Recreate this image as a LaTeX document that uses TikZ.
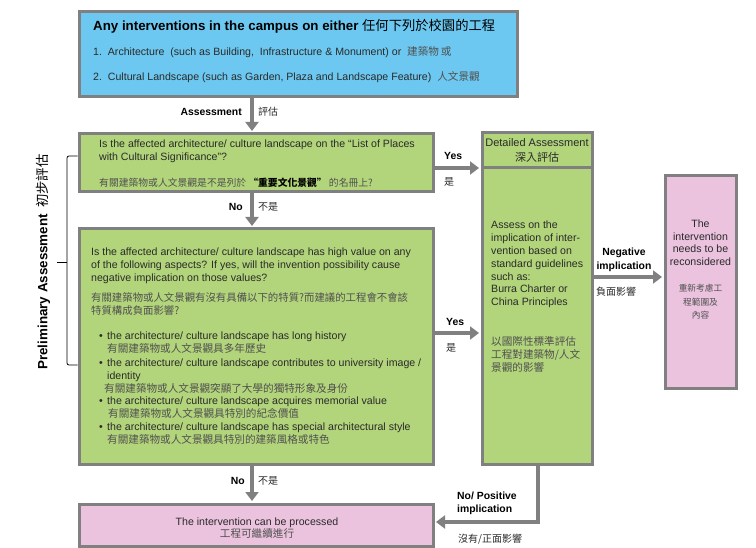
\documentclass[tikz,border=0pt]{standalone}
\usepackage{fontspec}
\setmainfont{Liberation Sans}
\newfontfamily\cjk{Noto Sans CJK TC}
\usetikzlibrary{arrows.meta}
\definecolor{bluefill}{HTML}{6CC8F0}
\definecolor{greenfill}{HTML}{B2D47B}
\definecolor{pinkfill}{HTML}{EBC3DE}
\definecolor{edgegray}{HTML}{808080}
\definecolor{txt}{HTML}{2A2A2A}
\definecolor{zhgray}{HTML}{505050}
\newcommand{\zh}[1]{{\cjk\color{zhgray}#1}}
\newcommand{\zhk}[1]{{\cjk #1}}
\begin{document}
\begin{tikzpicture}[x=1pt,y=-1pt,
  box/.style={draw=edgegray, line width=3pt, rectangle, inner sep=0pt},
  flow/.style={draw=edgegray, line width=4pt, shorten >=1.5pt, -{Triangle[width=13pt,length=9pt]}},
  tx/.style={inner sep=0pt, anchor=base west, align=left, text=txt, font=\fontsize{10.6}{12.8}\selectfont},
  lbl/.style={inner sep=0pt, text=black, font=\fontsize{10.4}{12.8}\selectfont\bfseries},
  lblz/.style={inner sep=0pt, text=txt, font=\cjk\fontsize{10}{12.8}\selectfont},
  brace/.style={draw=black, line width=0.8pt}
]
\useasboundingbox (0,0) rectangle (756,548);

% boxes
\node[box, fill=bluefill, minimum width=438pt, minimum height=85pt] (top) at (298,54.5) {};
\node[box, fill=greenfill, minimum width=354pt, minimum height=58pt] (g1) at (256,163) {};
\node[box, fill=greenfill, minimum width=354pt, minimum height=235pt] (g2) at (256,346.5) {};
\node[box, fill=pinkfill, minimum width=354pt, minimum height=42pt] (pb) at (256,525) {};
\node[box, fill=greenfill, minimum width=110pt, minimum height=331pt] (det) at (537,298.5) {};
\node[box, fill=pinkfill, minimum width=71pt, minimum height=213pt] (pr) at (700.5,282.5) {};

% helper coordinates
\coordinate (ax) at (252,0);
\coordinate (y1) at (0,168);
\coordinate (y2) at (0,333);
\coordinate (y3) at (0,277);
\coordinate (turn) at (538,522);

\draw[edgegray, line width=3pt] (det.west |- y1) -- (det.east |- y1);

% connectors
\draw[flow] (top.south -| ax) -- (g1.north -| ax);
\draw[flow] (g1.south -| ax) -- (g2.north -| ax);
\draw[flow] (g2.south -| ax) -- (pb.north -| ax);
\draw[flow] (g1.east |- y1) -- (det.west |- y1);
\draw[flow] (g2.east |- y2) -- (det.west |- y2);
\draw[flow] (det.east |- y3) -- (pr.west |- y3);
\draw[flow] (det.south -| turn) -- (turn) -- (turn -| pb.east);

% brace
\coordinate (bt) at (67,156);
\coordinate (bb) at (67,365);
\coordinate (bm) at (67,262);
\coordinate (bl) at (57,262);
\draw[brace, rounded corners=2pt] (bt -| g1.west) -- (bt) -- (bb) -- (bb -| g2.west);
\draw[brace] (bm) -- (bl);
\node[rotate=90, inner sep=0pt, font=\fontsize{13.4}{16}\selectfont] (prelim) at (43,262) {\textbf{Preliminary Assessment}\hspace{6pt}\zhk{初步評估}};

% top box text
\node[tx, text=black, font=\fontsize{13.3}{16}\selectfont\bfseries] (t0) at (93,31) {Any interventions in the campus on either \zhk{\mdseries 任何下列於校園的工程}};
\node[tx] (t1) at (93,56) {1.\ \ Architecture\ \ (such as Building,\ \ Infrastructure \& Monument) or\ \ \zh{建築物\,或}};
\node[tx] (t2) at (93,81) {2.\ \ Cultural Landscape (such as Garden, Plaza and Landscape Feature)\ \ \zh{人文景觀}};

% g1 text (anchor base = last line)
\node[tx] (g1t) at (99,160.8) {Is the affected architecture/ culture landscape on the “List of Places\\with Cultural Significance”?};
\node[tx, text=zhgray, font=\cjk\fontsize{9.8}{12.8}\selectfont] (g1c) at (99,187) {有關建築物或人文景觀是不是列於 {\bfseries\color{black}“重要文化景觀”} 的名冊上?};

% g2 text
\node[tx, font=\fontsize{10.6}{13}\selectfont] (g2t) at (91,282) {Is the affected architecture/ culture landscape has high value on any\\of the following aspects? If yes, will the invention possibility cause\\negative implication on those values?};
\node[tx, text=zhgray, font=\cjk\fontsize{10.4}{13}\selectfont] (g2c) at (91,315) {有關建築物或人文景觀有沒有具備以下的特質?而建議的工程會不會該\\特質構成負面影響?};
\node[tx, font=\fontsize{10.6}{12.6}\selectfont] (b1) at (99,352.6) {\makebox[8pt][l]{\textbullet}the architecture/ culture landscape has long history\\\hspace*{8pt}\zh{有關建築物或人文景觀具多年歷史}};
\node[tx, font=\fontsize{10.6}{12.6}\selectfont] (b2) at (99,392.2) {\makebox[8pt][l]{\textbullet}the architecture/ culture landscape contributes to university image /\\\hspace*{8pt}identity\\\hspace*{5pt}\zh{有關建築物或人文景觀突顯了大學的獨特形象及身份}};
\node[tx, font=\fontsize{10.6}{12.6}\selectfont] (b3) at (99,417.6) {\makebox[8pt][l]{\textbullet}the architecture/ culture landscape acquires memorial value\\\hspace*{9pt}\zh{有關建築物或人文景觀具特別的紀念價值}};
\node[tx, font=\fontsize{10.6}{12.6}\selectfont] (b4) at (99,443.6) {\makebox[8pt][l]{\textbullet}the architecture/ culture landscape has special architectural style\\\hspace*{8pt}\zh{有關建築物或人文景觀具特別的建築風格或特色}};

% bottom pink text
\node[tx, anchor=base, align=center] (pbt) at (257,537.8) {The intervention can be processed\\\zh{工程可繼續進行}};

% detailed box text
\node[tx, anchor=base, align=center, font=\fontsize{11}{15}\selectfont] (deth) at (537,162) {Detailed Assessment\\\zhk{深入評估}};
\node[tx] (dett) at (491,305.8) {Assess on the\\implication of inter-\\vention based on\\standard guidelines\\such as:\\Burra Charter or\\China Principles};
\node[tx, text=zhgray, font=\cjk\fontsize{10.6}{12.8}\selectfont] (detc) at (491,371.3) {以國際性標準評估\\工程對建築物/人文\\景觀的影響};

% right pink text
\node[tx, anchor=base, align=center] (prt) at (700.5,265.7) {The\\intervention\\needs to be\\reconsidered};
\node[tx, anchor=base, align=center, text=zhgray, font=\cjk\fontsize{8.7}{13.3}\selectfont] (prc) at (700.5,318.4) {重新考慮工\\程範圍及\\內容};

% labels
\node[lbl, anchor=base east] (lassess) at (242,116) {Assessment};
\node[lblz, anchor=base west] (lassessz) at (258,116) {評估};
\node[lbl, anchor=base east] (lno1) at (243,211) {No};
\node[lblz, anchor=base west] (lno1z) at (258,211) {不是};
\node[lbl, anchor=base east] (lno2) at (245,484) {No};
\node[lblz, anchor=base west] (lno2z) at (258,484) {不是};
\node[lbl, anchor=base west] (lyes1) at (444,160) {Yes};
\node[lblz, anchor=base west] (lyes1z) at (444,186) {是};
\node[lbl, anchor=base west] (lyes2) at (446,326) {Yes};
\node[lblz, anchor=base west] (lyes2z) at (446,352) {是};
\node[lbl, anchor=base, align=center, font=\fontsize{10.4}{14}\selectfont\bfseries] (lneg) at (624,270) {Negative\\implication};
\node[lblz, anchor=base west] (lnegz) at (596,296) {負面影響};
\node[lbl, anchor=base west, align=left, font=\fontsize{10.4}{13}\selectfont\bfseries] (lpos) at (457,512) {No/ Positive\\implication};
\node[lblz, anchor=base west] (lposz) at (458,542) {沒有/正面影響};
\end{tikzpicture}
\end{document}
